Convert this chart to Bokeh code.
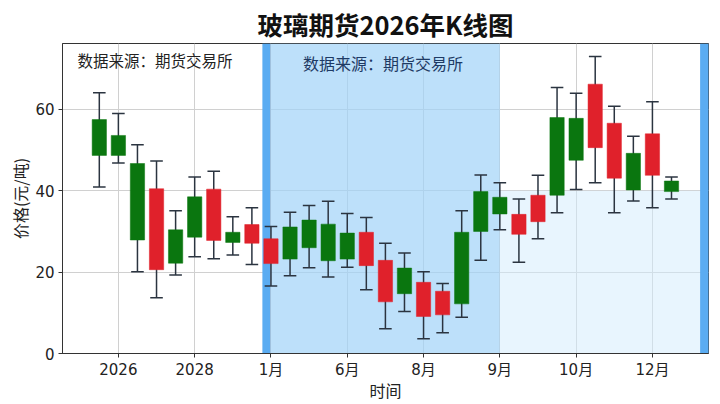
from bokeh.plotting import figure
from bokeh.models import ColumnDataSource, BoxAnnotation, Label, Range1d, FixedTicker
from bokeh.embed import file_html
from bokeh.resources import INLINE

# ---- data ----
opens  = [57.5, 53.6, 46.7, 20.6, 30.4, 38.5, 27.8, 29.8, 27.1, 22.1, 31.1, 32.8, 31.8, 29.6, 21.6, 12.7,
          21.0, 9.1, 9.5, 29.8, 39.8, 38.4, 29.3, 32.4, 58.0, 57.8, 50.6, 43.1, 49.2, 43.8, 42.4]
highs  = [64.1, 59.0, 51.3, 47.3, 35.1, 43.4, 44.8, 33.6, 35.8, 31.2, 34.7, 36.4, 37.4, 34.4, 33.4, 27.1,
          24.7, 20.1, 17.2, 35.1, 43.9, 42.0, 38.0, 43.8, 65.4, 64.0, 73.0, 60.8, 53.4, 61.9, 43.4]
lows   = [40.9, 46.8, 20.1, 13.7, 19.3, 23.8, 23.3, 24.2, 21.9, 16.6, 19.1, 21.1, 18.8, 21.2, 15.7, 6.1,
          10.3, 3.6, 5.1, 8.9, 22.9, 30.4, 22.4, 28.2, 34.6, 40.3, 42.0, 34.6, 37.5, 35.8, 38.0]
closes = [48.7, 48.7, 27.9, 40.5, 22.2, 28.6, 40.4, 27.3, 31.7, 28.2, 23.2, 26.0, 22.8, 23.2, 29.8, 22.9,
          14.7, 17.5, 15.3, 12.2, 30.0, 34.3, 34.2, 38.9, 38.9, 47.5, 66.2, 56.6, 40.2, 54.0, 39.8]
idx = list(range(len(opens)))

tick_positions = [1, 5, 9, 13, 17, 21, 25, 29]
tick_labels = ["2026", "2028", "1月", "6月", "8月", "9月", "10月", "12月"]
y_ticks = [0, 20, 40, 60]

title_text = "玻璃期货2026年K线图"
source_text = "数据来源：期货交易所"

UP = "#E0212B"
DOWN = "#0A760F"
WICK = "#2B3440"

colors = [UP if c > o else DOWN for o, c in zip(opens, closes)]
src = ColumnDataSource(dict(
    x=idx, o=opens, h=highs, l=lows, c=closes,
    top=[max(o, c) for o, c in zip(opens, closes)],
    bot=[min(o, c) for o, c in zip(opens, closes)],
    xl=[i - 0.33 for i in idx], xr=[i + 0.33 for i in idx],
    color=colors,
))

CJK = "Noto Sans CJK SC"
MIX = "DejaVu Sans, Noto Sans CJK SC"

p = figure(width=720, height=404, output_backend="svg", toolbar_location=None,
           x_range=Range1d(-1.93, 31.94), y_range=Range1d(0, 76.2),
           min_border_left=62, min_border_right=12, min_border_top=43, min_border_bottom=50)
p.title.text = title_text
p.title.text_font = CJK
p.title.text_font_style = "bold"
p.title.text_font_size = "25.5px"
p.title.align = "center"
p.title.text_color = "#111111"
p.title.standoff = 4

p.background_fill_color = "white"
p.border_fill_color = "white"
p.outline_line_color = "#333333"
p.outline_line_width = 1

# grid
for g in (p.xgrid, p.ygrid):
    g.grid_line_color = "#D0D0D0"
    g.grid_line_width = 1
p.xgrid.ticker = FixedTicker(ticks=tick_positions)
p.ygrid.ticker = FixedTicker(ticks=y_ticks)

# shaded regions
p.add_layout(BoxAnnotation(left=9.0, right=21.0, fill_color="#A1D3F8", fill_alpha=0.7,
                           line_alpha=0, level="underlay"))
p.add_layout(BoxAnnotation(left=21.0, right=31.5, bottom=0, top=40, fill_color="#D1EBFD",
                           fill_alpha=0.5, line_alpha=0, level="underlay"))
p.add_layout(BoxAnnotation(left=8.55, right=8.97, fill_color="#5AACF2", fill_alpha=1.0,
                           line_alpha=0, level="underlay"))
p.add_layout(BoxAnnotation(left=31.5, right=32.5, fill_color="#5AACF2", fill_alpha=1.0,
                           line_alpha=0, level="underlay"))

# candles
p.segment(x0="x", y0="l", x1="x", y1="h", source=src, line_color=WICK, line_width=1.5)
p.segment(x0="xl", y0="h", x1="xr", y1="h", source=src, line_color=WICK, line_width=1.5)
p.segment(x0="xl", y0="l", x1="xr", y1="l", source=src, line_color=WICK, line_width=1.5)
p.vbar(x="x", width=0.75, top="top", bottom="bot", source=src, fill_color="color",
       line_color="color", line_width=0.5)

# texts
p.add_layout(Label(x=-1.15, y=72.2, text=source_text, text_font=CJK, text_font_size="15.5px",
                   text_color="#222222", text_baseline="middle", text_align="left"))
p.add_layout(Label(x=14.87, y=71.3, text=source_text, text_font=CJK, text_font_size="16px",
                   text_color="#1E3A64", text_baseline="middle", text_align="center"))

# axes
p.xaxis.ticker = FixedTicker(ticks=tick_positions)
p.xaxis.major_label_overrides = {t: l for t, l in zip(tick_positions, tick_labels)}
p.yaxis.ticker = FixedTicker(ticks=y_ticks)
for ax in (p.xaxis, p.yaxis):
    ax.axis_line_color = "#333333"
    ax.major_tick_line_color = "#333333"
    ax.major_tick_out = 4
    ax.major_tick_in = 0
    ax.minor_tick_line_color = None
    ax.major_label_text_font = MIX
    ax.major_label_text_font_size = "15px"
    ax.major_label_text_color = "#222222"
    ax.axis_label_text_font = CJK
    ax.axis_label_text_font_size = "16px"
    ax.axis_label_text_font_style = "normal"
    ax.axis_label_text_color = "#222222"
p.xaxis.major_label_standoff = 3
p.yaxis.major_label_standoff = 4
p.xaxis.axis_label = "时间"
p.yaxis.axis_label = "价格(元/吨)"
p.xaxis.axis_label_standoff = -4
p.yaxis.axis_label_standoff = 0

open("out.html", "w").write(file_html(p, INLINE))
